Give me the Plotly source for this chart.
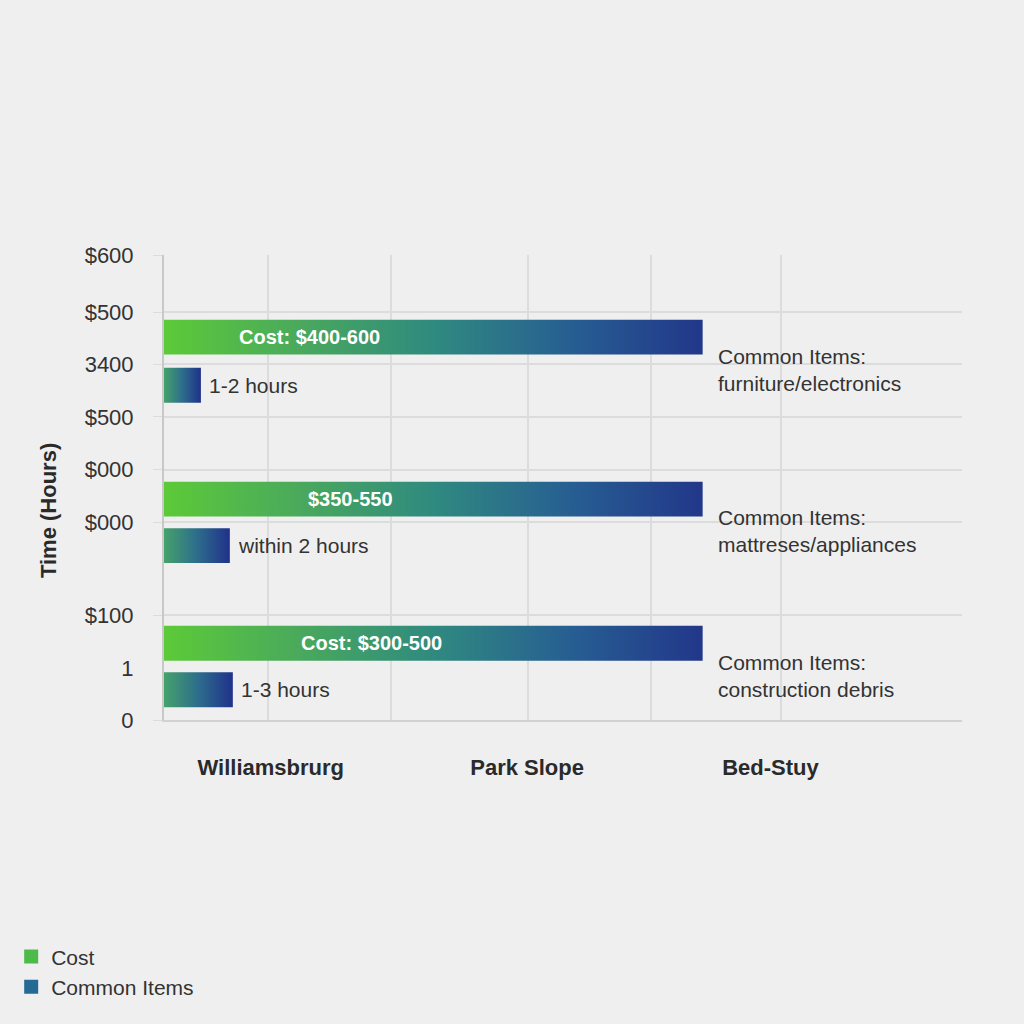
import plotly.graph_objects as go

# values
NEIGHBORHOODS = ["Williamsbrurg", "Park Slope", "Bed-Stuy"]
X_LABEL_POS = [107, 364, 608]
X_GRID = [104, 228, 365, 488, 619]

COST_LABELS = ["Cost: $400-600", "$350-550", "Cost: $300-500"]
COST_VALUES = [540, 540, 540]
COST_Y = [494, 285, 99]
COST_TEXT_X = [146, 187, 208]

TIME_LABELS = ["1-2 hours", "within 2 hours", "1-3 hours"]
TIME_VALUES = [37, 66, 69]
TIME_Y = [432, 225, 39]

ITEM_LABELS = ["Common Items:<br>furniture/electronics",
               "Common Items:<br>mattreses/appliances",
               "Common Items:<br>construction debris"]

Y_TICKS = [0, 67, 135, 255, 323, 391, 459, 526, 600]
Y_TICK_TEXT = ["0", "1", "$100", "$000", "$000", "$500", "3400", "$500", "$600"]
Y_GRID = [0, 135, 255, 323, 391, 459, 526, 600]

BAR_HALF = 22.5
BG = "#efefef"
FONT = "Liberation Sans"

COST_SCALE = [[0, "#5cca38"], [0.25, "#4aa95c"], [0.5, "#2f8a7f"],
              [0.75, "#275f92"], [1, "#22378a"]]
TIME_SCALE = [[0, "#45a26c"], [0.5, "#2d6d8c"], [1, "#20318a"]]


def bar(x_end, yc, scale):
    return go.Scatter(
        x=[0, x_end, x_end, 0, 0],
        y=[yc - BAR_HALF, yc - BAR_HALF, yc + BAR_HALF, yc + BAR_HALF, yc - BAR_HALF],
        mode="lines", fill="toself", line=dict(width=0),
        fillgradient=dict(type="horizontal", colorscale=scale),
        showlegend=False, hoverinfo="skip")


fig = go.Figure()
for i in range(3):
    fig.add_trace(bar(COST_VALUES[i], COST_Y[i], COST_SCALE))
for i in range(3):
    fig.add_trace(bar(TIME_VALUES[i], TIME_Y[i], TIME_SCALE))

# legend entries (small swatches)
for name, col in [("Cost", "#4cbb4a"), ("Common Items", "#246a94")]:
    fig.add_trace(go.Scatter(x=[None], y=[None], mode="markers", name=name,
                             marker=dict(symbol="square", size=14, color=col)))

for i in range(3):
    fig.add_annotation(x=COST_TEXT_X[i], y=COST_Y[i], text=COST_LABELS[i],
                       showarrow=False, xanchor="center",
                       font=dict(family=FONT, size=20, color="white", weight="bold"))
    fig.add_annotation(x=TIME_VALUES[i], y=TIME_Y[i], text=TIME_LABELS[i],
                       showarrow=False, xanchor="left", xshift=6,
                       font=dict(family=FONT, size=21, color="#333333"))
    fig.add_annotation(x=COST_VALUES[i], y=(COST_Y[i] + TIME_Y[i]) / 2,
                       text=ITEM_LABELS[i], showarrow=False, xanchor="left",
                       align="left", xshift=13, yshift=-9,
                       font=dict(family=FONT, size=21, color="#333333"))

fig.add_annotation(xref="paper", yref="paper", x=-0.145, y=0.45,
                   xanchor="center", yanchor="middle",
                   text="Time (Hours)", textangle=-90, showarrow=False,
                   font=dict(family=FONT, size=22, color="#2a2a2a", weight="bold"))

fig.update_xaxes(range=[0, 800], tickvals=X_LABEL_POS, ticktext=NEIGHBORHOODS,
                 showgrid=False, zeroline=False,
                 showline=True, linecolor="#d2d2d2", linewidth=2,
                 ticks="", ticklabelstandoff=27,
                 minor=dict(tickmode="array", tickvals=X_GRID, showgrid=True,
                            gridcolor="#dcdcdc", gridwidth=1.5, ticks=""),
                 tickfont=dict(family=FONT, size=22, color="#2a2a2a", weight="bold"))
fig.update_yaxes(range=[0, 600], tickvals=Y_TICKS, ticktext=Y_TICK_TEXT,
                 showgrid=False, zeroline=False,
                 showline=True, linecolor="#c8c8c8", linewidth=2,
                 ticks="", ticklabelstandoff=24,
                 minor=dict(tickmode="array", tickvals=Y_GRID, showgrid=True,
                            gridcolor="#dcdcdc", gridwidth=1.5,
                            ticks="outside", ticklen=9, tickcolor="#dcdcdc"),
                 tickfont=dict(family=FONT, size=22, color="#333333"))

fig.update_layout(
    width=1024, height=1024, paper_bgcolor=BG, plot_bgcolor=BG,
    margin=dict(l=163, r=62, t=255, b=304),
    legend=dict(x=-0.19, y=-0.465, xanchor="left", yanchor="top",
                bgcolor="rgba(0,0,0,0)", tracegroupgap=0, itemwidth=30,
                font=dict(family=FONT, size=21, color="#333333")),
)

fig.write_html("out.html", config={"displayModeBar": False}, post_script=(
    "document.body.style.margin='0';"
    "document.body.style.background='#efefef';"))
